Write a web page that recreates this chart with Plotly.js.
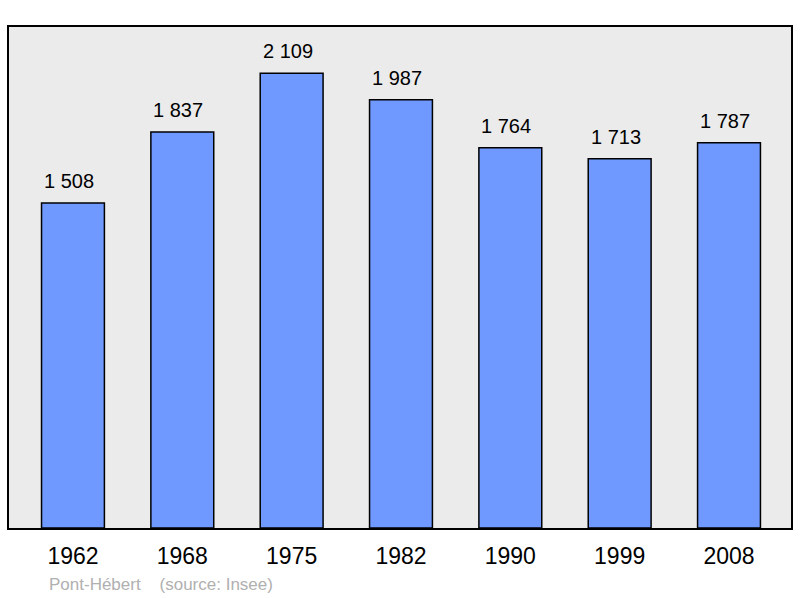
<!DOCTYPE html>
<html><head><meta charset="utf-8">
<script src="https://cdn.plot.ly/plotly-3.0.1.min.js"></script>
<style>html,body{margin:0;padding:0;background:#fff}#c{width:800px;height:598px}</style>
</head><body><div id="c"></div>
<script>
const years = ["1962","1968","1975","1982","1990","1999","2008"];
const population = [1508,1837,2109,1987,1764,1713,1787];
const labels = ["1 508","1 837","2 109","1 987","1 764","1 713","1 787"];

const FONT = 'Liberation Sans, Arial, sans-serif';
const trace = {
  type:'bar', x: years, y: population,
  marker:{color:'#7099ff', line:{color:'#000', width:1.5}},
  width:0.575, hoverinfo:'none'
};
const valueAnnotations = years.map((yr,i)=>({
  x: i, y: population[i], xref:'x', yref:'y', text: labels[i],
  showarrow:false, yanchor:'middle', xanchor:'center', yshift:22, xshift:-4,
  font:{family:FONT, size:20, color:'#000'}
}));
const layout = {
  width:800, height:598,
  margin:{l:9, r:9, t:27, b:70},
  paper_bgcolor:'#fff', plot_bgcolor:'#ebebeb',
  showlegend:false,
  xaxis:{type:'category', range:[-0.585,6.567], showline:true, mirror:true, linecolor:'#000', linewidth:2,
    ticks:'', tickfont:{family:FONT, size:23, color:'#000'}, ticklabelstandoff:6, fixedrange:true},
  yaxis:{range:[0,2324], showline:true, mirror:true, linecolor:'#000', linewidth:2, showgrid:false, zeroline:false,
    showticklabels:false, ticks:'', fixedrange:true},
  bargap:0,
  annotations: valueAnnotations.concat([{text:'Pont-Hébert    (source: Insee)', xref:'paper', yref:'paper', x:(47-9)/782, y:-(584-528)/501,
    xanchor:'left', yanchor:'middle', showarrow:false,
    font:{family:FONT, size:17, color:'#b0b0b0'}}])
};
Plotly.newPlot('c',[trace],layout,{displayModeBar:false,staticPlot:true});
</script></body></html>
